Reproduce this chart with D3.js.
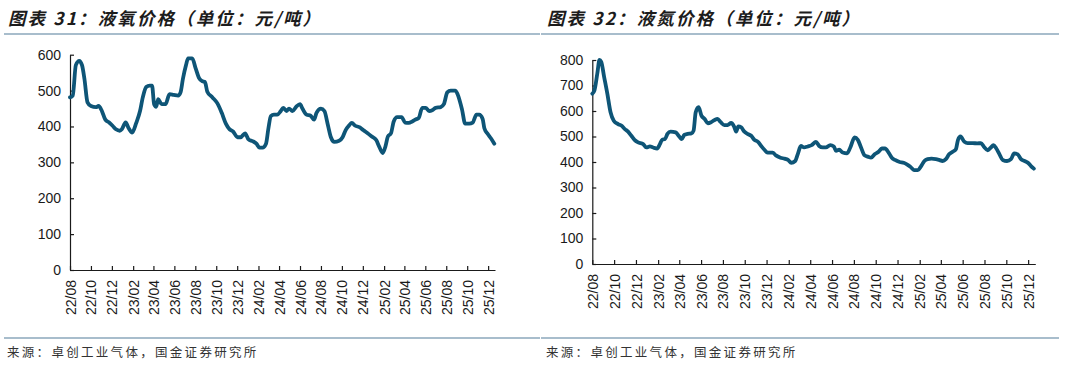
<!DOCTYPE html>
<html>
<head>
<meta charset="utf-8">
<script src="https://cdn.jsdelivr.net/npm/d3@7"></script>
<style>
  body { margin: 0; background: #fff; }
  svg { display: block; }
</style>
</head>
<body>
<script>
// chart titles / source
var titles = ["图表 31：液氧价格（单位：元/吨）", "图表 32：液氮价格（单位：元/吨）"];
var sourceText = "来源：卓创工业气体，国金证券研究所";

// x tick labels (every two months)
var tickMonths = ["2022-08","2022-10","2022-12","2023-02","2023-04","2023-06","2023-08","2023-10","2023-12",
  "2024-02","2024-04","2024-06","2024-08","2024-10","2024-12","2025-02","2025-04","2025-06","2025-08","2025-10","2025-12"];

// liquid oxygen
var oxyDates = ["2022-08-01","2022-08-09","2022-08-18","2022-08-28","2022-09-05","2022-09-12","2022-09-21","2022-10-01",
  "2022-10-16","2022-10-23","2022-11-02","2022-11-12","2022-11-23","2022-12-03","2022-12-13","2022-12-24","2022-12-30",
  "2023-01-10","2023-01-19","2023-01-29","2023-02-10","2023-02-21","2023-03-01","2023-03-11","2023-03-21","2023-03-28",
  "2023-04-03","2023-04-09","2023-04-15","2023-04-25","2023-05-06","2023-05-18","2023-05-30","2023-06-12","2023-06-19",
  "2023-06-26","2023-07-05","2023-07-11","2023-07-23","2023-08-02","2023-08-12","2023-08-22","2023-08-29","2023-09-05",
  "2023-09-20","2023-10-04","2023-10-17","2023-10-29","2023-11-09","2023-11-19","2023-12-02","2023-12-11","2023-12-24",
  "2024-01-03","2024-01-15","2024-01-26","2024-02-04","2024-02-13","2024-02-23","2024-03-01","2024-03-08","2024-03-17",
  "2024-03-27","2024-04-06","2024-04-13","2024-04-23","2024-04-30","2024-05-10","2024-05-21","2024-06-01","2024-06-08",
  "2024-06-20","2024-07-02","2024-07-12","2024-07-19","2024-08-01","2024-08-11","2024-08-21","2024-08-30","2024-09-09",
  "2024-09-23","2024-10-03","2024-10-12","2024-10-22","2024-10-30","2024-11-09","2024-11-21","2024-12-02","2024-12-15",
  "2024-12-27","2025-01-09","2025-01-18","2025-01-28","2025-02-05","2025-02-12","2025-02-21","2025-03-01","2025-03-11",
  "2025-03-24","2025-04-03","2025-04-14","2025-04-24","2025-05-03","2025-05-13","2025-05-23","2025-06-02","2025-06-12",
  "2025-06-21","2025-07-01","2025-07-16","2025-07-25","2025-08-04","2025-08-14","2025-08-27","2025-09-03","2025-09-16",
  "2025-09-25","2025-10-07","2025-10-17","2025-10-28","2025-11-05","2025-11-15","2025-11-20","2025-11-30","2025-12-09",
  "2025-12-19"];
var oxyValues = [481,486,571,583,571,533,467,457,454,457,443,419,411,402,392,388,392,
  411,395,383,410,443,481,510,514,514,462,455,476,462,462,490,488,486,495,
  533,571,590,590,562,535,526,524,497,481,465,438,408,392,386,370,370,381,
  364,359,352,341,341,352,395,429,433,433,443,452,443,450,443,455,462,450,
  433,430,419,438,450,443,405,370,357,360,370,390,403,410,402,398,390,381,
  372,362,343,326,345,372,381,414,426,426,411,410,414,419,424,452,452,443,
  445,452,454,462,495,500,500,490,447,408,408,411,433,433,421,395,379,367,
  352];

// liquid nitrogen
var nitDates = ["2022-08-01","2022-08-07","2022-08-15","2022-08-21","2022-08-26","2022-09-03","2022-09-12","2022-09-21",
  "2022-09-30","2022-10-12","2022-10-21","2022-10-31","2022-11-09","2022-11-18","2022-11-27","2022-12-07","2022-12-21",
  "2022-12-30","2023-01-09","2023-01-18","2023-01-29","2023-02-06","2023-02-12","2023-02-20","2023-02-27","2023-03-08",
  "2023-03-22","2023-04-01","2023-04-08","2023-04-15","2023-04-24","2023-05-05","2023-05-11","2023-05-17","2023-05-25",
  "2023-06-02","2023-06-11","2023-06-20","2023-06-29","2023-07-09","2023-07-17","2023-07-26","2023-08-05","2023-08-14",
  "2023-08-24","2023-09-01","2023-09-07","2023-09-13","2023-09-21","2023-09-30","2023-10-09","2023-10-19","2023-10-28",
  "2023-11-07","2023-11-16","2023-11-25","2023-12-04","2023-12-18","2023-12-27","2024-01-09","2024-01-20","2024-01-30",
  "2024-02-08","2024-02-19","2024-02-26","2024-03-06","2024-03-15","2024-03-25","2024-04-05","2024-04-17","2024-04-26",
  "2024-05-06","2024-05-15","2024-05-27","2024-06-06","2024-06-12","2024-06-21","2024-07-01","2024-07-13","2024-07-22",
  "2024-08-03","2024-08-12","2024-08-21","2024-08-31","2024-09-09","2024-09-18","2024-09-28","2024-10-09","2024-10-18",
  "2024-10-27","2024-11-06","2024-11-15","2024-11-24","2024-12-07","2024-12-18","2024-12-27","2025-01-07","2025-01-16",
  "2025-01-27","2025-02-05","2025-02-14","2025-02-23","2025-03-06","2025-03-18","2025-03-27","2025-04-06","2025-04-15",
  "2025-04-24","2025-05-04","2025-05-13","2025-05-19","2025-05-26","2025-06-06","2025-06-15","2025-06-29","2025-07-12",
  "2025-07-22","2025-07-31","2025-08-10","2025-08-19","2025-08-26","2025-09-03","2025-09-12","2025-09-21","2025-10-03",
  "2025-10-14","2025-10-23","2025-11-02","2025-11-11","2025-11-21","2025-12-02","2025-12-09","2025-12-17"];
var nitValues = [668,681,747,800,793,734,668,595,562,549,543,529,519,503,487,477,470,
  457,461,457,453,470,487,490,510,519,516,500,490,506,510,512,523,595,615,
  582,569,552,556,565,569,556,545,545,553,540,519,540,536,519,510,503,487,
  479,463,448,437,437,426,417,413,408,397,404,430,463,457,461,466,479,463,
  457,457,466,461,444,448,437,434,457,496,487,457,426,421,417,430,440,453,
  453,437,417,408,400,397,391,380,368,368,384,404,411,413,411,408,404,411,
  430,440,450,487,500,479,474,474,473,474,459,446,457,466,453,430,408,404,
  411,434,430,411,404,395,384,374];

var W = 1080, H = 367;
var parse = d3.timeParse("%Y-%m-%d");
var parseMonth = d3.timeParse("%Y-%m");
var lineColor = "#0e5577";
var axisColor = "#1a1a1a";
var sepColor = "#a8bdcc";

var svg = d3.select("body").append("svg")
    .attr("width", W)
    .attr("height", H);

function drawPanel(cfg) {
  var g = svg.append("g");

  // title + separators
  g.append("text")
      .attr("x", cfg.titleX)
      .attr("y", 25)
      .attr("font-family", "'Noto Sans CJK SC', sans-serif")
      .attr("font-size", 17.5)
      .attr("font-style", "italic")
      .attr("font-weight", "bold")
      .attr("letter-spacing", 2.1)
      .attr("fill", "#1c1c1c")
      .text(cfg.title);

  g.append("line")
      .attr("x1", cfg.sepX0).attr("x2", cfg.sepX1)
      .attr("y1", 34).attr("y2", 34)
      .attr("stroke", sepColor).attr("stroke-width", 2);

  g.append("line")
      .attr("x1", cfg.sepX0).attr("x2", cfg.sepX1)
      .attr("y1", 338).attr("y2", 338)
      .attr("stroke", sepColor).attr("stroke-width", 2);

  g.append("text")
      .attr("x", cfg.titleX - 1)
      .attr("y", 357)
      .attr("font-family", "'Noto Sans CJK SC', sans-serif")
      .attr("font-size", 12.5)
      .attr("letter-spacing", 2.3)
      .attr("fill", "#333")
      .text(sourceText);

  var x = d3.scaleTime()
      .domain([parse("2022-08-01"), parse("2025-12-21")])
      .range([cfg.left, cfg.right]);

  var y = d3.scaleLinear()
      .domain([0, cfg.yMax])
      .range([cfg.bottom, cfg.top]);

  var yAxis = d3.axisLeft(y)
      .tickValues(d3.range(0, cfg.yMax + 1, 100))
      .tickSizeInner(-4)
      .tickSizeOuter(0)
      .tickPadding(9);

  var xAxis = d3.axisBottom(x)
      .tickValues(tickMonths.map(function(m) { return parseMonth(m); }))
      .tickFormat(d3.timeFormat("%y/%m"))
      .tickSizeInner(-4)
      .tickSizeOuter(0);

  var gy = g.append("g")
      .attr("transform", "translate(" + cfg.left + ",0)")
      .call(yAxis);

  var gx = g.append("g")
      .attr("transform", "translate(0," + cfg.bottom + ")")
      .call(xAxis);

  [gx, gy].forEach(function(a) {
    a.attr("font-family", "'Liberation Sans', Arial, sans-serif")
     .attr("font-size", 14);
    a.selectAll("path, line").attr("stroke", axisColor).attr("stroke-width", 1.2);
    a.selectAll("text").attr("fill", "#1a1a1a");
  });

  gx.selectAll("text")
      .attr("x", -10)
      .attr("y", 0)
      .attr("dy", "0.36em")
      .attr("transform", "rotate(-90)")
      .style("text-anchor", "end");

  var data = cfg.dates.map(function(d, i) {
    return { date: parse(d), value: cfg.values[i] };
  });

  var line = d3.line()
      .x(function(d) { return x(d.date); })
      .y(function(d) { return y(d.value); })
      .curve(d3.curveMonotoneX);

  g.append("path")
      .datum(data)
      .attr("fill", "none")
      .attr("stroke", lineColor)
      .attr("stroke-width", 3.8)
      .attr("stroke-linejoin", "round")
      .attr("stroke-linecap", "round")
      .attr("d", line);
}

drawPanel({
  title: titles[0], titleX: 8, sepX0: 4, sepX1: 540,
  left: 70, right: 495, top: 54.7, bottom: 270, yMax: 600,
  dates: oxyDates, values: oxyValues
});

drawPanel({
  title: titles[1], titleX: 547, sepX0: 541, sepX1: 1059,
  left: 592.3, right: 1035.3, top: 60, bottom: 264, yMax: 800,
  dates: nitDates, values: nitValues
});
</script>
</body>
</html>
